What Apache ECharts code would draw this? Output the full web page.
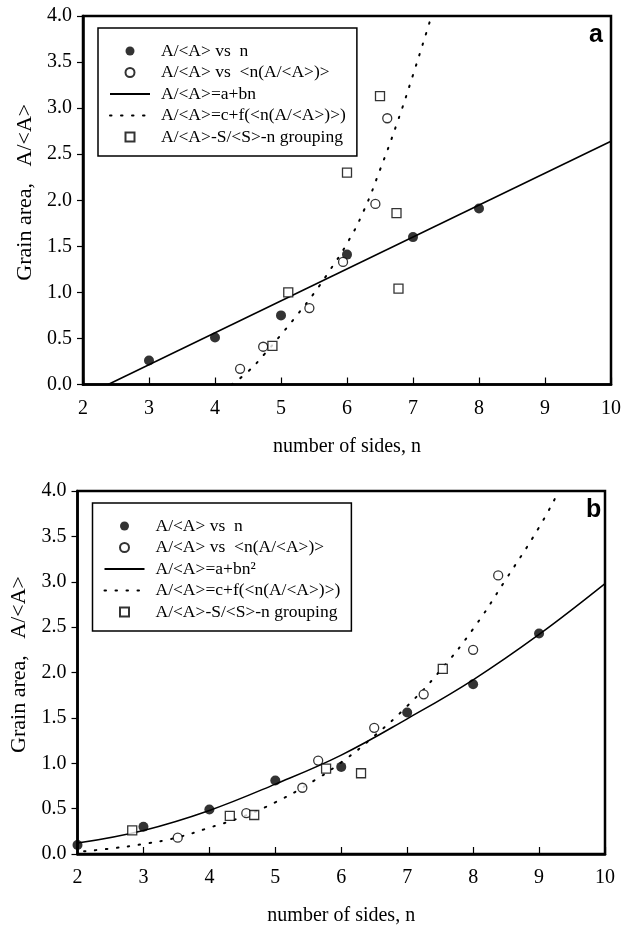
<!DOCTYPE html>
<html>
<head>
<meta charset="utf-8">
<script src="https://cdn.jsdelivr.net/npm/echarts@6/dist/echarts.min.js"></script>
<style>
  html, body { margin: 0; padding: 0; background: #fff; }
  #chart { width: 631px; height: 927px; }
</style>
</head>
<body>
<div id="chart"></div>
<script>
// ---- tick labels ----
const xTickLabels = ['2', '3', '4', '5', '6', '7', '8', '9', '10'];
const yTickLabels = ['0.0', '0.5', '1.0', '1.5', '2.0', '2.5', '3.0', '3.5', '4.0'];

// ---- panel a ----
const aFilledN = [3, 4, 5, 6, 7, 8];
const aFilledA = [0.26, 0.51, 0.75, 1.41, 1.60, 1.91];
const aOpenN = [4.38, 4.73, 5.43, 5.94, 6.43, 6.61];
const aOpenA = [0.17, 0.41, 0.83, 1.33, 1.96, 2.89];
const aSquareN = [4.87, 5.11, 6.00, 6.50, 6.75, 6.78];
const aSquareA = [0.42, 1.00, 2.30, 3.13, 1.86, 1.04];
const aLinearN = [2.38, 10];
const aLinearA = [0.00, 2.64];
const aCurveN = [4.25, 4.5, 4.75, 5.0, 5.25, 5.5, 5.75, 6.0, 6.25, 6.5, 6.75, 7.0, 7.28];
const aCurveA = [0.00, 0.14, 0.33, 0.54, 0.76, 0.99, 1.25, 1.53, 1.88, 2.33, 2.82, 3.36, 4.00];

// ---- panel b ----
const bFilledN = [2, 3, 4, 5, 6, 7, 8, 9];
const bFilledA = [0.10, 0.30, 0.49, 0.81, 0.96, 1.56, 1.87, 2.43];
const bOpenN = [3.52, 4.56, 5.41, 5.65, 6.50, 7.25, 8.00, 8.38];
const bOpenA = [0.18, 0.45, 0.73, 1.03, 1.39, 1.76, 2.25, 3.07];
const bSquareN = [2.83, 4.31, 4.68, 5.77, 6.30, 7.54];
const bSquareA = [0.26, 0.42, 0.43, 0.94, 0.89, 2.04];
const bQuadN = [2, 3, 4, 5, 6, 7, 8, 9, 10];
const bQuadA = [0.12, 0.26, 0.48, 0.77, 1.09, 1.49, 1.92, 2.42, 2.98];
const bCurveN = [2.1, 2.5, 3.0, 3.5, 4.0, 4.5, 5.0, 5.5, 6.0, 6.5, 7.0, 7.5, 8.0, 8.5, 9.0, 9.3];
const bCurveA = [0.03, 0.06, 0.11, 0.18, 0.29, 0.41, 0.57, 0.77, 1.01, 1.30, 1.63, 2.02, 2.48, 3.03, 3.60, 4.00];

// ---- legend entries ----
const nameFilled = 'A/<A> vs  n';
const nameOpen = 'A/<A> vs  <n(A/<A>)>';
const nameLinear = 'A/<A>=a+bn';
const nameQuad = 'A/<A>=a+bn\u00B2';
const nameCurve = 'A/<A>=c+f(<n(A/<A>)>)';
const nameSquare = 'A/<A>-S/<S>-n grouping';

const SERIF = '"Liberation Serif", "Times New Roman", serif';
const pairs = (xs, ys) => xs.map((x, i) => [x, ys[i]]);

function xAxisFor(gi) {
  return {
    type: 'value', gridIndex: gi, min: 2, max: 10, interval: 1,
    name: 'number of sides, n', nameLocation: 'middle', nameGap: 52,
    nameTextStyle: { fontFamily: SERIF, fontSize: 20, color: '#000' },
    axisLine: { show: true, lineStyle: { color: '#000', width: 2.5 } },
    axisTick: { show: true, inside: true, length: 7, lineStyle: { color: '#000', width: 1.2 } },
    axisLabel: { fontFamily: SERIF, fontSize: 20, color: '#000', margin: 14,
      formatter: v => xTickLabels[Math.round(v - 2)] },
    splitLine: { show: false }
  };
}
function yAxisFor(gi) {
  return {
    type: 'value', gridIndex: gi, min: 0, max: 4, interval: 0.5,
    name: 'Grain area,   A/<A>', nameLocation: 'middle', nameGap: 44,
    nameTextStyle: { fontFamily: SERIF, fontSize: 22, color: '#000', padding: [0, 0, 0, 16] },
    axisLine: { show: true, lineStyle: { color: '#000', width: 2.5 } },
    axisTick: { show: true, inside: false, length: 6, lineStyle: { color: '#000', width: 1.2 } },
    axisLabel: { fontFamily: SERIF, fontSize: 20, color: '#000', margin: 11,
      formatter: v => yTickLabels[Math.round(v * 2)] },
    splitLine: { show: false }
  };
}

// legend icons: lines without a marker, squares kept square
const squareIcon = 'path://M0,0H10V10H0Z';
const noMarker = { opacity: 0 };
function legendFor(left, top, lineName) {
  return {
    orient: 'vertical', left: left, top: top,
    itemWidth: 40, itemHeight: 9, itemGap: 3.5,
    padding: [14, 11, 10, 11],
    borderColor: '#000', borderWidth: 1.5, borderRadius: 0,
    backgroundColor: '#fff', selectedMode: false, symbolKeepAspect: true,
    textStyle: { fontFamily: SERIF, fontSize: 17.5, color: '#000', lineHeight: 18, padding: [0, 0, 0, 6] },
    data: [
      { name: nameFilled },
      { name: nameOpen },
      { name: lineName, itemStyle: noMarker },
      { name: nameCurve, itemStyle: noMarker },
      { name: nameSquare, icon: squareIcon }
    ]
  };
}

const filledStyle = { color: '#000' };
const openStyle = { color: '#fff', borderColor: '#000', borderWidth: 1.3 };
const solidLine = { color: '#000', width: 1.5 };
const dottedLine = { color: '#000', width: 2, type: [1.5, 9.5], cap: 'round' };

function panelSeries(gi, d) {
  return [
    { name: d.lineName, type: 'line', xAxisIndex: gi, yAxisIndex: gi, data: d.line,
      symbol: 'none', smooth: d.lineSmooth, lineStyle: solidLine, itemStyle: { color: '#000' }, z: 2 },
    { name: nameCurve, type: 'line', xAxisIndex: gi, yAxisIndex: gi, data: d.curve,
      symbol: 'none', smooth: 0.5, lineStyle: dottedLine, itemStyle: { color: '#000' }, z: 2 },
    { name: nameFilled, type: 'scatter', xAxisIndex: gi, yAxisIndex: gi, data: d.filled,
      symbol: 'circle', symbolSize: 10, itemStyle: filledStyle, z: 4 },
    { name: nameOpen, type: 'scatter', xAxisIndex: gi, yAxisIndex: gi, data: d.open,
      symbol: 'circle', symbolSize: 9, itemStyle: openStyle, z: 4 },
    { name: nameSquare, type: 'scatter', xAxisIndex: gi, yAxisIndex: gi, data: d.square,
      symbol: 'rect', symbolSize: 9, itemStyle: openStyle, z: 4 }
  ];
}

const chart = echarts.init(document.getElementById('chart'), null, { renderer: 'canvas' });
chart.setOption({
  backgroundColor: '#fff',
  animation: false,
  title: [
    { text: 'a', left: 584, top: 18, textStyle: { fontFamily: '"Liberation Sans", Arial, sans-serif', fontSize: 25, fontWeight: 'bold', color: '#000' } },
    { text: 'b', left: 581, top: 493, textStyle: { fontFamily: '"Liberation Sans", Arial, sans-serif', fontSize: 25, fontWeight: 'bold', color: '#000' } }
  ],
  grid: [
    { left: 83, top: 16, width: 528, height: 368.5, show: true, borderColor: '#000', borderWidth: 2.5, backgroundColor: 'transparent' },
    { left: 77.5, top: 491, width: 527.5, height: 369, show: true, borderColor: '#000', borderWidth: 2.5, backgroundColor: 'transparent' }
  ],
  xAxis: [xAxisFor(0), xAxisFor(1)],
  yAxis: [yAxisFor(0), yAxisFor(1)],
  legend: [
    legendFor(98, 28, nameLinear),
    legendFor(92.5, 503, nameQuad)
  ],
  series: [
    ...panelSeries(0, {
      lineName: nameLinear, line: pairs(aLinearN, aLinearA), lineSmooth: false,
      curve: pairs(aCurveN, aCurveA),
      filled: pairs(aFilledN, aFilledA), open: pairs(aOpenN, aOpenA), square: pairs(aSquareN, aSquareA)
    }),
    ...panelSeries(1, {
      lineName: nameQuad, line: pairs(bQuadN, bQuadA), lineSmooth: 0.4,
      curve: pairs(bCurveN, bCurveA),
      filled: pairs(bFilledN, bFilledA), open: pairs(bOpenN, bOpenA), square: pairs(bSquareN, bSquareA)
    })
  ]
});
</script>
</body>
</html>
